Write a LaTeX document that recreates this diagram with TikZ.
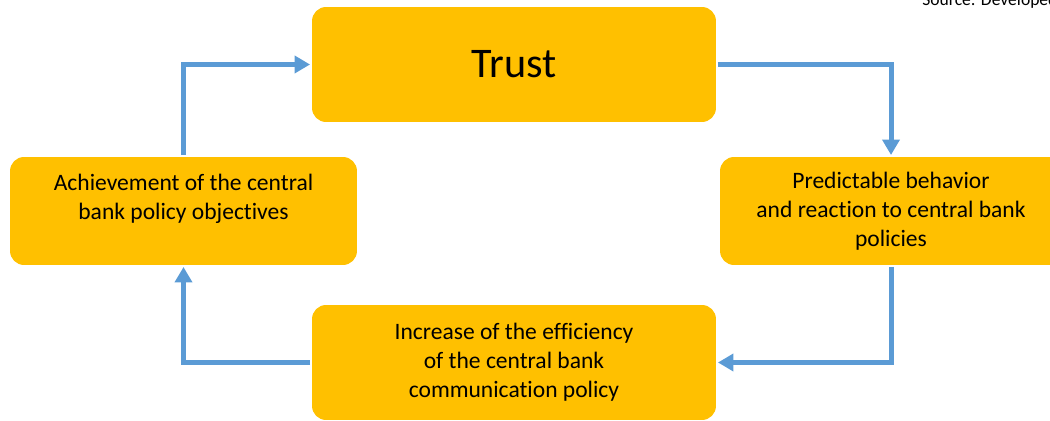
\documentclass[tikz,border=0pt]{standalone}
\usepackage{fontspec}
\setmainfont{Carlito}[Ligatures=NoCommon]
\usetikzlibrary{arrows.meta}
\definecolor{gold}{HTML}{FFC000}
\definecolor{arrowblue}{HTML}{5B9BD5}
\begin{document}
\begin{tikzpicture}[x=0.02cm,y=-0.02cm,
  box/.style={fill=gold, rounded corners=0.28cm, align=center, inner sep=0pt, outer sep=0pt,
    font=\fontsize{13.4}{16.4}\selectfont},
  flow/.style={arrowblue, line width=0.1cm, -{Triangle[length=0.31cm,width=0.34cm]},
    shorten >=0.04cm, shorten <=0.04cm}]
\useasboundingbox (0,0) rectangle (1050,421);
\clip (0,0) rectangle (1050,421);
\node[box, minimum width=8.08cm, minimum height=2.3cm, font=\fontsize{24}{28}\selectfont] (trust) at (514,64.5) {Trust};
\node[box, minimum width=6.94cm, minimum height=2.16cm] (left) at (183.5,211) {Achievement of the central\\bank policy objectives\\\mbox{}};
\node[box, minimum width=6.84cm, minimum height=2.16cm] (right) at (891,211) {Predictable behavior\\and reaction to central bank\\policies};
\node[box, minimum width=8.08cm, minimum height=2.3cm] (bottom) at (514,362.5) {Increase of the efficiency\\of the central bank\\communication policy};
\node[anchor=base west, inner sep=0pt, font=\fontsize{10}{12}\selectfont] (src) at (922,6) {Source: Developed by the authors};
\draw[flow] (left.north) |- (trust.west);
\draw[flow] (trust.east) -| (right.north);
\draw[flow] (right.south) |- (bottom.east);
\draw[flow] (bottom.west) -| (left.south);
\end{tikzpicture}
\end{document}
